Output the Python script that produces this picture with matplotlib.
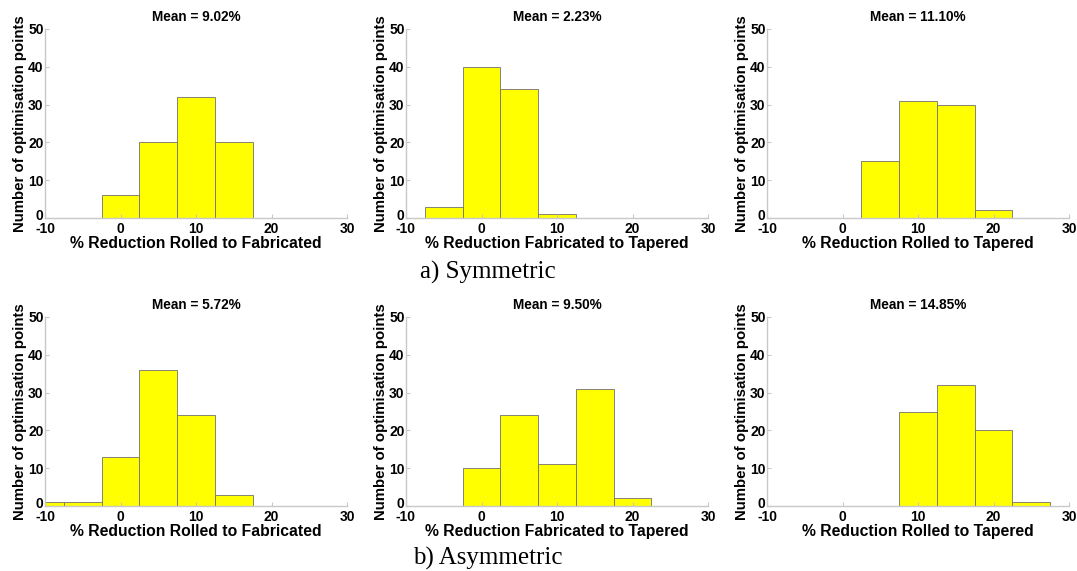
import matplotlib
matplotlib.use("Agg")
import matplotlib.pyplot as plt
import matplotlib.transforms as mtransforms
import numpy as np

W = 1077.
H = 571.

# bin centres (width 5) and counts per panel
centres = [-10, -5, 0, 5, 10, 15, 20, 25]
counts_rf_sym = [0, 0, 6, 20, 32, 20, 0, 0]
counts_ft_sym = [0, 3, 40, 34, 1, 0, 0, 0]
counts_rt_sym = [0, 0, 0, 15, 31, 30, 2, 0]
counts_rf_asym = [1, 1, 13, 36, 24, 3, 0, 0]
counts_ft_asym = [0, 0, 10, 24, 11, 31, 2, 0]
counts_rt_asym = [0, 0, 0, 0, 25, 32, 20, 1]

means = ["9.02", "2.23", "11.10", "5.72", "9.50", "14.85"]
xlabels = ["% Reduction Rolled to Fabricated",
           "% Reduction Fabricated to Tapered",
           "% Reduction Rolled to Tapered"]
ylabel = "Number of optimisation points"
xticks = [-10, 0, 10, 20, 30]
yticks = [0, 10, 20, 30, 40, 50]

all_counts = [counts_rf_sym, counts_ft_sym, counts_rt_sym,
              counts_rf_asym, counts_ft_asym, counts_rt_asym]

plt.rcParams['font.family'] = ['Liberation Sans', 'DejaVu Sans']
plt.rcParams['font.weight'] = 'bold'
plt.rcParams['axes.unicode_minus'] = False

fig = plt.figure(figsize=(W/100., H/100.), dpi=100)

lefts = [45, 406, 767]
tops = [29, 317]
aw = 302
ah = 189

for i in range(6):
	row = i // 3
	col = i % 3
	ax = fig.add_axes([lefts[col]/W, (H - tops[row] - ah)/H, aw/W, ah/H])
	ax.bar(centres, all_counts[i], width=5, color="#ffff00",
		edgecolor="#707070", linewidth=0.6)
	ax.set_xlim(-10, 30)
	ax.set_ylim(0, 50)
	ax.set_xticks(xticks)
	ax.set_yticks(yticks)
	for s in ["top", "right"]:
		ax.spines[s].set_visible(False)
	for s in ["left", "bottom"]:
		ax.spines[s].set_color("#c8c8c8")
		ax.spines[s].set_linewidth(1.0)
	ax.tick_params(direction="in", length=3, color="#c8c8c8",
		labelsize=10, pad=1)
	ax.tick_params(axis="x", pad=3)
	for lab in ax.get_xticklabels() + ax.get_yticklabels():
		lab.set_fontweight("bold")
	# lift the "0" on the y axis a little so it sits above "-10"
	up = mtransforms.ScaledTranslation(0, 4/100., fig.dpi_scale_trans)
	zero = ax.get_yticklabels()[0]
	zero.set_transform(zero.get_transform() + up)
	ax.set_title("Mean = %s%%" % means[i], fontsize=9.8, fontweight="bold", pad=6)
	ax.set_xlabel(xlabels[col], fontsize=11.3, fontweight="bold", labelpad=0)
	ax.set_ylabel(ylabel, fontsize=10.8, fontweight="bold", labelpad=1)

fig.text(488/W, 1 - 272/H, "a) Symmetric", fontsize=18, family="Liberation Serif",
	weight="normal", ha="center", va="center")
fig.text(488/W, 1 - 558/H, "b) Asymmetric", fontsize=18, family="Liberation Serif",
	weight="normal", ha="center", va="center")

plt.savefig("out.png", dpi=100)
